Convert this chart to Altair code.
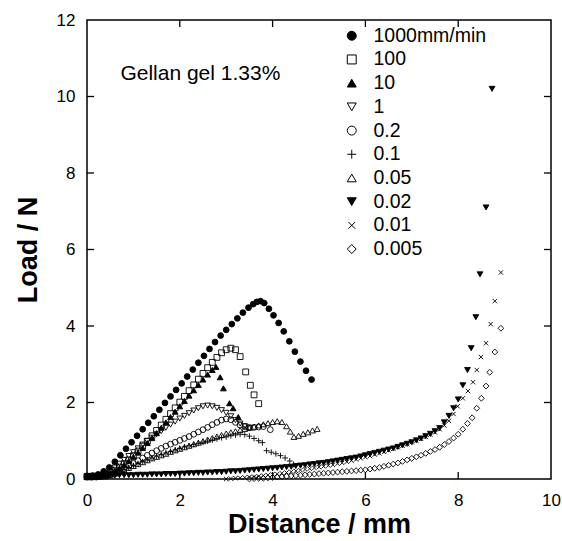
import altair as alt
import pandas as pd

# ---------------- data ----------------
labels = ["1000mm/min", "100", "10", "1", "0.2", "0.1", "0.05", "0.02", "0.01", "0.005"]

x_1000 = [0.0, 0.12, 0.24, 0.36, 0.48, 0.6, 0.72, 0.84, 0.96, 1.08, 1.2, 1.32, 1.44, 1.56, 1.68,
          1.8, 1.92, 2.04, 2.16, 2.28, 2.4, 2.52, 2.64, 2.76, 2.88, 3.0, 3.12, 3.24, 3.36, 3.48,
          3.58, 3.66, 3.74, 3.82, 3.92, 4.02, 4.13, 4.24, 4.36, 4.48, 4.6, 4.72, 4.84]
y_1000 = [0.08, 0.09, 0.12, 0.2, 0.3, 0.45, 0.62, 0.79, 0.96, 1.13, 1.3, 1.47, 1.64, 1.81, 1.99,
          2.16, 2.33, 2.5, 2.68, 2.86, 3.04, 3.22, 3.4, 3.58, 3.75, 3.9, 4.05, 4.2, 4.35, 4.48,
          4.57, 4.63, 4.65, 4.6, 4.45, 4.28, 4.08, 3.86, 3.6, 3.33, 3.07, 2.83, 2.6]

x_100 = [0.0, 0.1, 0.2, 0.3, 0.4, 0.5, 0.6, 0.7, 0.8, 0.9, 1.0, 1.1, 1.2, 1.3, 1.4, 1.5, 1.6, 1.7,
         1.8, 1.9, 2.0, 2.1, 2.2, 2.3, 2.4, 2.5, 2.6, 2.7, 2.8, 2.9, 3.0, 3.1, 3.2, 3.3, 3.42, 3.52,
         3.6, 3.7]
y_100 = [0.06, 0.06, 0.07, 0.09, 0.12, 0.17, 0.23, 0.31, 0.4, 0.5, 0.61, 0.73, 0.86, 0.99, 1.13,
         1.27, 1.41, 1.56, 1.71, 1.86, 2.01, 2.16, 2.31, 2.46, 2.61, 2.76, 2.91, 3.05, 3.18, 3.3,
         3.38, 3.42, 3.38, 3.2, 2.8, 2.45, 2.2, 1.97]

x_10 = [0.0, 0.1, 0.2, 0.3, 0.4, 0.5, 0.6, 0.7, 0.8, 0.9, 1.0, 1.1, 1.2, 1.3, 1.4, 1.5, 1.6, 1.7,
        1.8, 1.9, 2.0, 2.1, 2.2, 2.3, 2.4, 2.5, 2.6, 2.7, 2.78, 2.87, 2.94, 3.07, 3.15, 3.26]
y_10 = [0.05, 0.05, 0.06, 0.08, 0.11, 0.15, 0.21, 0.28, 0.37, 0.47, 0.58, 0.69, 0.81, 0.94, 1.07,
        1.2, 1.34, 1.48, 1.62, 1.76, 1.9, 2.04, 2.18, 2.32, 2.46, 2.6, 2.73, 2.85, 2.93, 2.66,
        2.37, 1.98, 1.85, 1.62]

x_1 = [0.0, 0.1, 0.2, 0.3, 0.4, 0.5, 0.6, 0.7, 0.8, 0.9, 1.0, 1.1, 1.2, 1.3, 1.4, 1.5, 1.6, 1.7,
       1.8, 1.9, 2.0, 2.1, 2.2, 2.3, 2.4, 2.5, 2.6, 2.7, 2.8, 2.9, 3.0, 3.1, 3.2, 3.3, 3.4, 3.5]
y_1 = [0.05, 0.05, 0.06, 0.08, 0.12, 0.2, 0.3, 0.4, 0.5, 0.6, 0.7, 0.8, 0.9, 0.99, 1.08, 1.17,
       1.25, 1.34, 1.42, 1.5, 1.58, 1.65, 1.72, 1.79, 1.85, 1.9, 1.92, 1.9, 1.86, 1.8, 1.73, 1.64,
       1.54, 1.45, 1.38, 1.33]

x_02 = [0.0, 0.1, 0.2, 0.3, 0.4, 0.5, 0.6, 0.7, 0.8, 0.9, 1.0, 1.1, 1.2, 1.3, 1.4, 1.5, 1.6, 1.7,
        1.8, 1.9, 2.0, 2.1, 2.2, 2.3, 2.4, 2.5, 2.6, 2.7, 2.8, 2.9, 3.0, 3.1, 3.2, 3.3, 3.4, 3.5,
        3.6, 3.7, 3.8, 3.95]
y_02 = [0.05, 0.05, 0.05, 0.06, 0.08, 0.11, 0.15, 0.21, 0.27, 0.34, 0.41, 0.48, 0.55, 0.62, 0.68,
        0.74, 0.8, 0.86, 0.91, 0.96, 1.01, 1.06, 1.11, 1.17, 1.23, 1.29, 1.35, 1.42, 1.48, 1.54,
        1.57, 1.55, 1.48, 1.41, 1.37, 1.35, 1.35, 1.36, 1.37, 1.29]

x_01 = [0.0, 0.1, 0.2, 0.3, 0.4, 0.5, 0.6, 0.7, 0.8, 0.9, 1.0, 1.1, 1.2, 1.3, 1.4, 1.5, 1.6, 1.7,
        1.8, 1.9, 2.0, 2.1, 2.2, 2.3, 2.4, 2.5, 2.6, 2.7, 2.8, 2.9, 3.0, 3.1, 3.2, 3.3, 3.4, 3.5,
        3.6, 3.7, 3.78, 3.87, 3.97, 4.07, 4.17, 4.27, 4.37, 4.45]
y_01 = [0.05, 0.05, 0.05, 0.06, 0.08, 0.11, 0.15, 0.2, 0.25, 0.3, 0.35, 0.4, 0.45, 0.5, 0.55, 0.6,
        0.64, 0.68, 0.72, 0.76, 0.8, 0.84, 0.87, 0.9, 0.93, 0.96, 0.99, 1.02, 1.05, 1.08, 1.1,
        1.13, 1.15, 1.17, 1.16, 1.12, 1.06, 1.0, 0.95, 0.74, 0.7, 0.66, 0.61, 0.55, 0.47, 0.38]

x_005 = [0.4, 0.5, 0.6, 0.7, 0.8, 0.9, 1.0, 1.1, 1.2, 1.3, 1.4, 1.5, 1.6, 1.7, 1.8, 1.9, 2.0, 2.1,
         2.2, 2.3, 2.4, 2.5, 2.6, 2.7, 2.8, 2.9, 3.0, 3.1, 3.2, 3.3, 3.4, 3.5, 3.6, 3.7, 3.8, 3.9,
         4.0, 4.1, 4.2, 4.3, 4.38, 4.46, 4.56, 4.66, 4.76, 4.86, 4.96]
y_005 = [0.07, 0.1, 0.14, 0.19, 0.24, 0.29, 0.34, 0.39, 0.44, 0.49, 0.54, 0.58, 0.62, 0.66, 0.71,
         0.75, 0.79, 0.83, 0.87, 0.91, 0.95, 0.99, 1.03, 1.07, 1.11, 1.15, 1.19, 1.22, 1.25, 1.28,
         1.31, 1.34, 1.37, 1.4, 1.43, 1.46, 1.49, 1.51, 1.49, 1.38, 1.24, 1.1, 1.13, 1.18, 1.22,
         1.27, 1.31]

x_002 = [0.0, 0.1, 0.2, 0.3, 0.4, 0.5, 0.6, 0.7, 0.8, 0.9, 1.0, 1.1, 1.2, 1.3, 1.4, 1.5, 1.6, 1.7,
         1.8, 1.9, 2.0, 2.1, 2.2, 2.3, 2.4, 2.5, 2.6, 2.7, 2.8, 2.9, 3.0, 3.1, 3.2, 3.3, 3.4, 3.5,
         3.6, 3.7, 3.8, 3.9, 4.0, 4.1, 4.2, 4.3, 4.4, 4.5, 4.6, 4.7, 4.8, 4.9, 5.0, 5.1, 5.2, 5.3,
         5.4, 5.5, 5.6, 5.7, 5.8, 5.9, 6.0, 6.1, 6.2, 6.3, 6.4, 6.5, 6.6, 6.7, 6.8, 6.9, 7.0, 7.1,
         7.2, 7.3, 7.4, 7.5, 7.6, 7.7, 7.8, 7.9, 8.0, 8.1, 8.2, 8.28, 8.38, 8.47, 8.6, 8.73]
y_002 = [0.08, 0.08, 0.08, 0.09, 0.09, 0.09, 0.09, 0.1, 0.1, 0.1, 0.1, 0.11, 0.11, 0.11, 0.12,
         0.12, 0.12, 0.13, 0.13, 0.13, 0.14, 0.14, 0.15, 0.15, 0.16, 0.16, 0.17, 0.17, 0.18, 0.18,
         0.19, 0.2, 0.2, 0.21, 0.22, 0.23, 0.24, 0.25, 0.26, 0.27, 0.28, 0.29, 0.3, 0.31, 0.32,
         0.34, 0.35, 0.36, 0.38, 0.39, 0.41, 0.42, 0.44, 0.46, 0.48, 0.5, 0.52, 0.54, 0.56, 0.59,
         0.62, 0.65, 0.68, 0.71, 0.74, 0.77, 0.8, 0.84, 0.88, 0.92, 0.96, 1.01, 1.06, 1.12, 1.18,
         1.25, 1.33, 1.48, 1.65, 1.85, 2.08, 2.45, 2.85, 3.42, 4.23, 5.35, 7.1, 10.2]

x_001 = [3.0, 3.1, 3.2, 3.3, 3.4, 3.5, 3.6, 3.7, 3.8, 3.9, 4.0, 4.1, 4.2, 4.3, 4.4, 4.5, 4.6, 4.7,
         4.8, 4.9, 5.0, 5.1, 5.2, 5.3, 5.4, 5.5, 5.6, 5.7, 5.8, 5.9, 6.0, 6.1, 6.2, 6.3, 6.4, 6.5,
         6.6, 6.7, 6.8, 6.9, 7.0, 7.1, 7.2, 7.3, 7.4, 7.5, 7.6, 7.7, 7.8, 7.9, 7.99, 8.1, 8.21,
         8.32, 8.4, 8.49, 8.6, 8.7, 8.79, 8.92]
y_001 = [0.0, 0.01, 0.02, 0.03, 0.04, 0.05, 0.06, 0.07, 0.09, 0.1, 0.12, 0.13, 0.15, 0.17, 0.19,
         0.21, 0.23, 0.25, 0.27, 0.29, 0.31, 0.33, 0.35, 0.37, 0.4, 0.42, 0.45, 0.48, 0.51, 0.54,
         0.57, 0.6, 0.64, 0.67, 0.71, 0.75, 0.79, 0.83, 0.87, 0.91, 0.96, 1.0, 1.05, 1.1, 1.16,
         1.22, 1.3, 1.4, 1.52, 1.7, 1.9, 2.11, 2.3, 2.53, 2.85, 3.19, 3.55, 4.05, 4.65, 5.4]

x_0005 = [3.5, 3.6, 3.7, 3.8, 3.9, 4.0, 4.1, 4.2, 4.3, 4.4, 4.5, 4.6, 4.7, 4.8, 4.9, 5.0, 5.1, 5.2,
          5.3, 5.4, 5.5, 5.6, 5.7, 5.8, 5.9, 6.0, 6.1, 6.2, 6.3, 6.4, 6.5, 6.6, 6.7, 6.8, 6.9, 7.0,
          7.1, 7.2, 7.3, 7.4, 7.5, 7.6, 7.7, 7.8, 7.9, 8.0, 8.1, 8.2, 8.3, 8.4, 8.5, 8.6, 8.68,
          8.79, 8.92]
y_0005 = [0.0, 0.01, 0.02, 0.02, 0.03, 0.04, 0.05, 0.06, 0.07, 0.08, 0.09, 0.1, 0.11, 0.12, 0.13,
          0.14, 0.15, 0.16, 0.17, 0.18, 0.19, 0.2, 0.21, 0.22, 0.23, 0.24, 0.26, 0.28, 0.3, 0.33,
          0.36, 0.39, 0.42, 0.46, 0.5, 0.54, 0.58, 0.62, 0.67, 0.72, 0.77, 0.83, 0.9, 0.98, 1.07,
          1.17, 1.3, 1.45, 1.6, 1.85, 2.11, 2.43, 2.79, 3.32, 3.94]

x_ticks = [0, 2, 4, 6, 8, 10]
y_ticks = [0, 2, 4, 6, 8, 10, 12]
x_inner_ticks = [2, 4, 6, 8]
y_inner_ticks = [2, 4, 6, 8, 10]

note_text = ["Gellan gel 1.33%"]
note_x = [0.72]
note_y = [10.6]

# ---------------- build table ----------------
series_x = [x_1000, x_100, x_10, x_1, x_02, x_01, x_005, x_002, x_001, x_0005]
series_y = [y_1000, y_100, y_10, y_1, y_02, y_01, y_005, y_002, y_001, y_0005]
rows = []
for lab, xs_, ys_ in zip(labels, series_x, series_y):
    for xv, yv in zip(xs_, ys_):
        rows.append({"rate": lab, "x": xv, "y": yv})
df = pd.DataFrame(rows)

PLUS = "M-1,0H1M0,-1V1"
CROSS = "M-0.75,-0.75L0.75,0.75M-0.75,0.75L0.75,-0.75"
shapes = ["circle", "square", "triangle-up", "triangle-down", "circle", PLUS,
          "triangle-up", "triangle-down", CROSS, "diamond"]
fills = ["black", "transparent", "black", "transparent", "transparent", "transparent",
         "transparent", "black", "transparent", "transparent"]
strokes = ["black"] * len(labels)

W, H = 464, 459
TICK = 7
FONT = "Liberation Sans"
xs = alt.Scale(domain=[0, 10], nice=False, zero=False)
ys = alt.Scale(domain=[0, 12], nice=False, zero=False)

x_axis = alt.Axis(
    orient="bottom", values=x_ticks, title="Distance / mm", ticks=False, domain=False,
    labelFontSize=17, labelPadding=13, labelFlush=False, titleFontSize=27,
    titleFontWeight="bold", titlePadding=3, grid=False, labelFont=FONT, titleFont=FONT,
    labelColor="black", titleColor="black")
y_axis = alt.Axis(
    orient="left", values=y_ticks, title="Load / N", ticks=False, domain=False,
    labelFontSize=17, labelPadding=12, labelFlush=False, titleFontSize=27,
    titleFontWeight="bold", titlePadding=14, grid=False, labelFont=FONT, titleFont=FONT,
    labelColor="black", titleColor="black")

legend = alt.Legend(
    title=None, orient="none", legendX=255, legendY=6,
    labelFont=FONT, labelFontSize=19.5, labelColor="black",
    symbolSize=80, symbolStrokeWidth=1,
    rowPadding=2.7, labelOffset=12, padding=0,
)

points = alt.Chart(df).mark_point(filled=True, size=34, strokeWidth=0.9, opacity=1).encode(
    x=alt.X("x:Q", scale=xs, axis=x_axis),
    y=alt.Y("y:Q", scale=ys, axis=y_axis),
    shape=alt.Shape("rate:N", scale=alt.Scale(domain=labels, range=shapes), legend=legend, sort=labels),
    fill=alt.Fill("rate:N", scale=alt.Scale(domain=labels, range=fills), legend=legend, sort=labels),
    stroke=alt.Stroke("rate:N", scale=alt.Scale(domain=labels, range=strokes), legend=legend, sort=labels),
)

# inward ticks on all four sides, positioned by the shared scales
xt = pd.DataFrame({"x": x_inner_ticks})
yt = pd.DataFrame({"y": y_inner_ticks})
rule_style = dict(color="black", strokeWidth=1.3)
tick_bottom = alt.Chart(xt).mark_rule(**rule_style).encode(
    x=alt.X("x:Q", scale=xs, axis=x_axis), y=alt.value(H), y2=alt.value(H - TICK))
tick_top = alt.Chart(xt).mark_rule(**rule_style).encode(
    x=alt.X("x:Q", scale=xs, axis=x_axis), y=alt.value(0), y2=alt.value(TICK))
tick_left = alt.Chart(yt).mark_rule(**rule_style).encode(
    y=alt.Y("y:Q", scale=ys, axis=y_axis), x=alt.value(0), x2=alt.value(TICK))
tick_right = alt.Chart(yt).mark_rule(**rule_style).encode(
    y=alt.Y("y:Q", scale=ys, axis=y_axis), x=alt.value(W), x2=alt.value(W - TICK))

note_df = pd.DataFrame({"t": note_text, "x": note_x, "y": note_y})
note = alt.Chart(note_df).mark_text(align="left", baseline="middle", fontSize=21, font=FONT,
                                     color="black").encode(
    x=alt.X("x:Q", scale=xs, axis=x_axis),
    y=alt.Y("y:Q", scale=ys, axis=y_axis),
    text="t:N",
)

chart = alt.layer(points, tick_bottom, tick_top, tick_left, tick_right, note).properties(
    width=W, height=H,
    autosize=alt.AutoSizeParams(type="none"),
    padding={"left": 87, "top": 20, "right": 11, "bottom": 62},
    background="white",
).configure_view(
    stroke="black", strokeWidth=1.5
)

chart.save("out.html", embed_options={"renderer": "svg", "actions": False})
